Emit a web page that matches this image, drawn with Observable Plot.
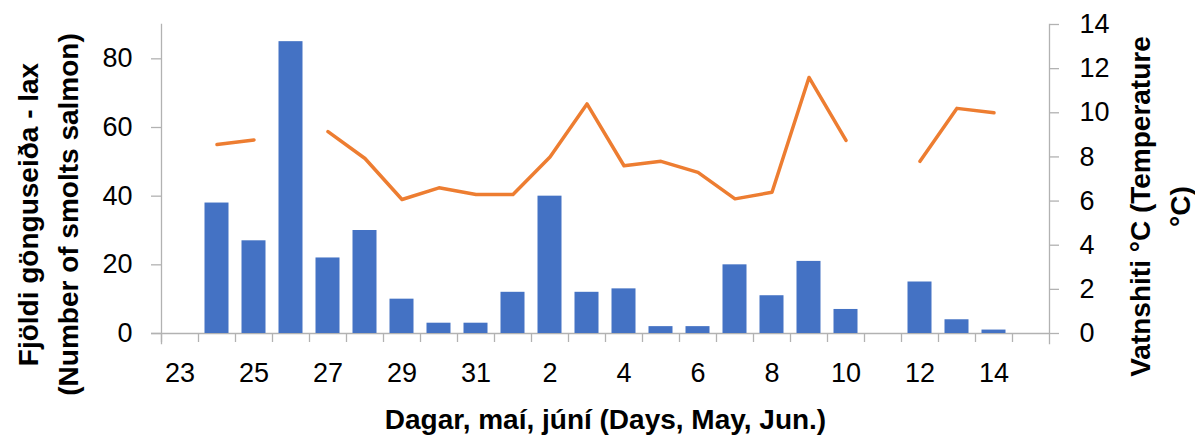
<!DOCTYPE html>
<html><head><meta charset="utf-8">
<script src="https://cdn.jsdelivr.net/npm/d3@7"></script>
<script src="https://cdn.jsdelivr.net/npm/@observablehq/plot@0.6"></script>
<style>body{margin:0;background:#fff} svg{display:block}</style>
</head><body><div id="chart"></div>
<script>
// ---- data ----
const days = ["23","24","25","26","27","28","29","30","31","1","2","3","4","5","6","7","8","9","10","11","12","13","14","15"];
const smolts = [null,38,27,85,22,30,10,3,3,12,40,12,13,2,2,20,11,21,7,null,15,4,1,null];
const temperature = [null,8.56,8.77,null,9.15,7.93,6.07,6.6,6.3,6.3,8.0,10.4,7.6,7.8,7.3,6.1,6.4,11.6,8.75,null,7.8,10.2,10.0,null];
const xTickLabels = ["23","25","27","29","31","2","4","6","8","10","12","14"];
const leftTicks = [0,20,40,60,80];
const rightTicks = [0,2,4,6,8,10,12,14];
const countDomain = [0, 90];
const tempDomain = [0, 14];
const xTitle = "Dagar, maí, júní (Days, May, Jun.)";
const leftTitle = "Fjöldi gönguseiða - lax\n(Number of smolts salmon)";
const rightTitle = "Vatnshiti °C (Temperature\n°C)";

// ---- layout ----
const W = 1195, H = 439, ML = 161, MR = 146, MT = 24, MB = 106;
const step = (W - ML - MR) / days.length;
const k = countDomain[1] / tempDomain[1];
const axisGray = "#B2B2B2";
const font = "Liberation Sans, Arial, sans-serif";

const table = days.map((d, i) => ({day: d, count: smolts[i], temp: temperature[i]}));

const chart = Plot.plot({
  width: W, height: H,
  marginLeft: ML, marginRight: MR, marginTop: MT, marginBottom: MB,
  style: {fontFamily: font, fontSize: "27px", color: "#000", background: "#fff"},
  x: {type: "band", domain: days, padding: 0, axis: null},
  y: {domain: countDomain, axis: null},
  marks: [
    // axis lines
    Plot.frame({anchor: "left", stroke: axisGray, strokeWidth: 1.3, insetBottom: -10}),
    Plot.frame({anchor: "right", stroke: axisGray, strokeWidth: 1.3, insetBottom: -10}),
    Plot.ruleY([0], {stroke: axisGray, strokeWidth: 1.3, insetLeft: -10}),
    // x boundary ticks
    Plot.axisX({ticks: days, tickSize: 9, fill: "none", label: null, stroke: axisGray, strokeWidth: 1.3, dx: -step / 2}),
    // x labels
    Plot.axisX({ticks: xTickLabels, tickSize: 0, tickPadding: 29, label: null, fontSize: 27, fill: "#000"}),
    // left axis
    Plot.axisY({anchor: "left", ticks: leftTicks, tickSize: 10, tickPadding: 19, label: null, stroke: axisGray, strokeWidth: 1.3, fontSize: 27, fill: "#000"}),
    // right axis
    Plot.axisY({anchor: "right", ticks: rightTicks.map(t => t * k), tickFormat: d => Math.round(d / k), tickSize: 9, tickPadding: 21, label: null, stroke: axisGray, strokeWidth: 1.3, fontSize: 27, fill: "#000"}),
    // bars
    Plot.barY(table, {x: "day", y: "count", fill: "#4472C4", insetLeft: 6.5, insetRight: 6.5}),
    // temperature line
    Plot.lineY(table, {x: "day", y: d => d.temp == null ? NaN : d.temp * k, stroke: "#ED7D31", strokeWidth: 3.5, strokeLinecap: "round", strokeLinejoin: "round"}),
    // titles
    Plot.text([xTitle], {frameAnchor: "bottom", text: d => d, dy: 87, textAnchor: "middle", lineAnchor: "middle", fontSize: 28, fontWeight: "bold", fill: "#000"}),
    Plot.text([leftTitle], {frameAnchor: "left", text: d => d, rotate: -90, dx: -116, dy: 35.5, textAnchor: "middle", lineAnchor: "middle", lineHeight: 1.43, fontSize: 28, fontWeight: "bold", fill: "#000"}),
    Plot.text([rightTitle], {frameAnchor: "right", text: d => d, rotate: -90, dx: 108, dy: 27.5, textAnchor: "middle", lineAnchor: "middle", lineHeight: 1.43, fontSize: 28, fontWeight: "bold", fill: "#000"})
  ]
});
document.getElementById("chart").appendChild(chart);
</script>
</body></html>
